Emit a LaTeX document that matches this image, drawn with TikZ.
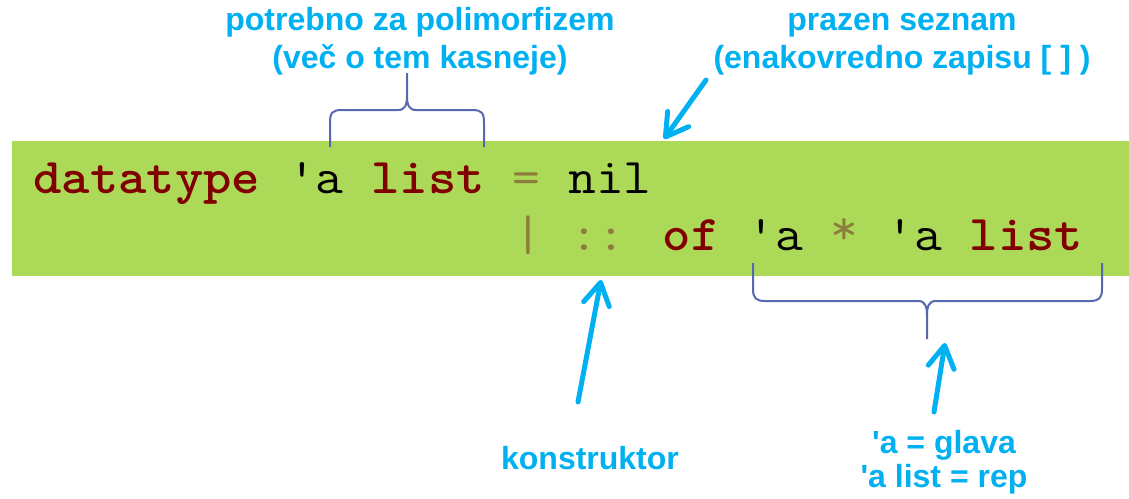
\documentclass[tikz,border=0pt]{standalone}
\usepackage{fontspec}
\setmainfont{Liberation Sans}
\usetikzlibrary{arrows.meta}
\definecolor{bg}{RGB}{173,217,88}
\definecolor{kw}{RGB}{128,0,0}
\definecolor{op}{RGB}{140,125,60}
\definecolor{lbl}{RGB}{0,176,240}
\definecolor{brc}{RGB}{85,104,176}
\newcommand{\kwd}[1]{\textcolor{kw}{\bfseries #1}}
\newcommand{\opr}[1]{\textcolor{op}{#1}}
\begin{document}
\begin{tikzpicture}[x=0.5pt,y=-0.5pt,
  code/.style={anchor=base west, inner sep=0, font=\ttfamily\fontsize{25pt}{30pt}\selectfont},
  lab/.style={text=lbl, anchor=base, inner sep=0, font=\bfseries\fontsize{16pt}{18.5pt}\selectfont},
  bracepath/.style={draw=brc, line width=1pt},
  pointer/.style={draw=lbl, line width=2.5pt, line cap=round,
    -{Straight Barb[length=11pt,width=13pt,line cap=round,line join=round]}}
]
\useasboundingbox (0,0) rectangle (1129,498);
\fill[bg] (12,141) rectangle (1129,276);
% code
\node[code] (l1) at (33,193) {\scalebox{1.08}[1]{\kwd{datatype} \textquotesingle a \kwd{list} \opr{=} nil}};
\node[code] (l2) at (514,250) {\scalebox{1.08}[1]{\opr{| ::} \kwd{of} \textquotesingle a \opr{\raisebox{3pt}{*}} \textquotesingle a \kwd{list}}};
% labels
\node[lab] (poly1) at (420,31) {potrebno za polimorfizem};
\node[lab] (poly2) at (420,68) {(več o tem kasneje)};
\node[lab] (nil1) at (902,31) {prazen seznam};
\node[lab] (nil2) at (902,68) {(enakovredno zapisu [ ] )};
\node[lab] (kons) at (590,469) {konstruktor};
\node[lab] (glava1) at (944,453) {\textquotesingle a = glava};
\node[lab] (glava2) at (944,487) {\textquotesingle a list = rep};
% braces
\draw[bracepath] (330,147) -- (330,123) .. controls (330,113) and (332,110) .. (342,110) -- (398,110)
  .. controls (405,110) and (407,105) .. (407,96) -- (407,73);
\draw[bracepath] (407,96) .. controls (407,105) and (409,110) .. (416,110) -- (472,110)
  .. controls (482,110) and (484,113) .. (484,123) -- (484,147);
\draw[bracepath] (753,263) -- (753,289) .. controls (753,298) and (756,301) .. (765,301) -- (918,301)
  .. controls (925,301) and (927,306) .. (927,316) -- (927,339);
\draw[bracepath] (927,316) .. controls (927,306) and (929,301) .. (936,301) -- (1090,301)
  .. controls (1099,301) and (1102,298) .. (1102,289) -- (1102,263);
% arrows
\coordinate (a1s) at (706,80);
\coordinate (a1e) at (664,139);
\coordinate (a2s) at (578,402);
\coordinate (a2e) at (601,280);
\coordinate (a3s) at (934,412);
\coordinate (a3e) at (945,343);
\draw[pointer] (a1s) -- (a1e);
\draw[pointer] (a2s) -- (a2e);
\draw[pointer] (a3s) -- (a3e);
\end{tikzpicture}
\end{document}
